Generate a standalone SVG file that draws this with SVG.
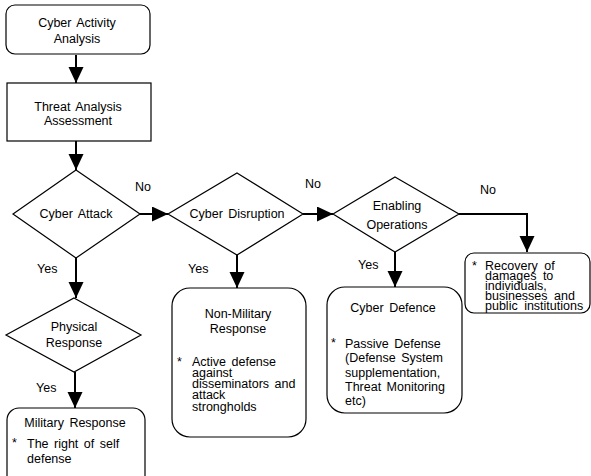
<svg xmlns="http://www.w3.org/2000/svg" width="591" height="476" viewBox="0 0 591 476">
<defs>
<marker id="ah" markerUnits="userSpaceOnUse" markerWidth="17" markerHeight="16" refX="16" refY="7.5" orient="auto">
<path d="M0,0 L16,7.5 L0,15 z" fill="#000"/>
</marker>
<style>
.box{fill:#fff;stroke:#000;stroke-width:1.2}
.t{font-family:"Liberation Sans",Arial,sans-serif;font-size:12.5px;fill:#000;word-spacing:2px}
.c{text-anchor:middle}
.r{font-family:"Liberation Sans",Arial,sans-serif;font-size:12.5px;fill:#000;word-spacing:3px}
.con{fill:none;stroke:#000;stroke-width:2;marker-end:url(#ah)}
.lbl{font-family:"Liberation Sans",Arial,sans-serif;font-size:12.5px;fill:#000}
</style>
</defs>
<rect width="591" height="476" fill="#fff"/>
<g id="connectors">
<path class="con" d="M76,55 V83"/>
<path class="con" d="M76,141 V170"/>
<path class="con" d="M140,214 H168"/>
<path class="con" d="M303,214 H333"/>
<path class="con" d="M459,214 H527 V252"/>
<path class="con" d="M76,258 V298"/>
<path class="con" d="M75,372 V408"/>
<path class="con" d="M237,255 V288"/>
<path class="con" d="M395,252 V287"/>
<text class="lbl" x="135" y="191">No</text>
<text class="lbl" x="305" y="188">No</text>
<text class="lbl" x="480" y="194">No</text>
<text class="lbl" x="37" y="273">Yes</text>
<text class="lbl" x="188" y="273">Yes</text>
<text class="lbl" x="358" y="269">Yes</text>
<text class="lbl" x="36" y="392">Yes</text>
</g>
<g id="cyber-activity-analysis">
<rect class="box" x="6" y="5" width="144" height="49" rx="9"/>
<text class="t c" x="77" y="27">Cyber Activity</text>
<text class="t c" x="77" y="43">Analysis</text>
</g>
<g id="threat-analysis-assessment">
<rect class="box" x="7" y="83" width="144" height="58"/>
<text class="t c" x="78" y="111">Threat Analysis</text>
<text class="t c" x="78" y="125">Assessment</text>
</g>
<g id="cyber-attack">
<polygon class="box" points="76,170 140,214 76,258 13,214"/>
<text class="t c" x="76" y="218">Cyber Attack</text>
</g>
<g id="cyber-disruption">
<polygon class="box" points="237,173 303,214 237,255 168,214"/>
<text class="t c" x="237" y="218">Cyber Disruption</text>
</g>
<g id="enabling-operations">
<polygon class="box" points="395,177 459,214 395,252 333,214"/>
<text class="t c" x="397" y="210">Enabling</text>
<text class="t c" x="397" y="229">Operations</text>
</g>
<g id="recovery">
<rect class="box" x="465" y="253" width="125" height="60" rx="9"/>
<text class="t" x="472" y="270">*</text>
<text class="r" x="485" y="270">Recovery of</text>
<text class="r" x="485" y="280">damages to</text>
<text class="r" x="485" y="290">individuals,</text>
<text class="r" x="485" y="300">businesses and</text>
<text class="r" x="485" y="310">public institutions</text>
</g>
<g id="physical-response">
<polygon class="box" points="74,298 141,335 74,372 6,335"/>
<text class="t c" x="74" y="331">Physical</text>
<text class="t c" x="74" y="347">Response</text>
</g>
<g id="non-military-response">
<rect class="box" x="172" y="288" width="134" height="149" rx="18"/>
<text class="t c" x="238" y="318">Non-Military</text>
<text class="t c" x="238" y="333">Response</text>
<text class="t" x="177" y="366">*</text>
<text class="t" x="192" y="366">Active defense</text>
<text class="t" x="192" y="377">against</text>
<text class="t" x="192" y="388">disseminators and</text>
<text class="t" x="192" y="399">attack</text>
<text class="t" x="192" y="411">strongholds</text>
</g>
<g id="cyber-defence">
<rect class="box" x="327" y="287" width="135" height="126" rx="18"/>
<text class="t c" x="393" y="312">Cyber Defence</text>
<text class="t" x="331" y="347">*</text>
<text class="t" x="345" y="348">Passive Defense</text>
<text class="t" x="345" y="362">(Defense System</text>
<text class="t" x="345" y="377">supplementation,</text>
<text class="t" x="345" y="391">Threat Monitoring</text>
<text class="t" x="345" y="405">etc)</text>
</g>
<g id="military-response">
<rect class="box" x="7" y="408" width="138" height="80" rx="12"/>
<text class="t c" x="75" y="427">Military Response</text>
<text class="t" x="12" y="447">*</text>
<text class="t" x="27" y="448">The right of self</text>
<text class="t" x="27" y="463">defense</text>
</g>
</svg>
